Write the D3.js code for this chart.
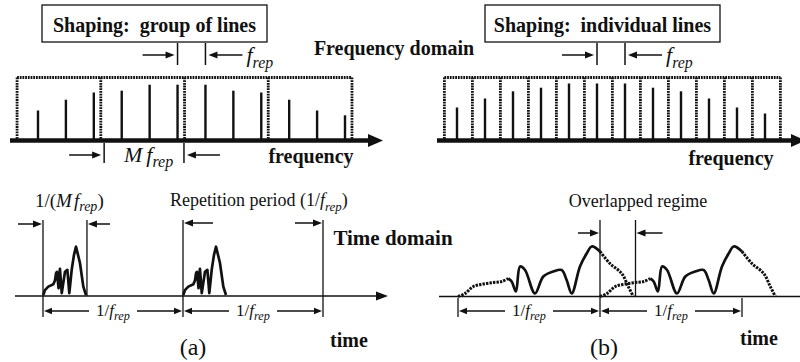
<!DOCTYPE html>
<html>
<head>
<meta charset="utf-8">
<script src="https://cdn.jsdelivr.net/npm/d3@7"></script>
<style>
  html, body { margin: 0; padding: 0; background: #fff; }
  svg { display: block; font-family: "Liberation Serif", "Times New Roman", serif; }
  text { white-space: pre; fill: #111; }
</style>
</head>
<body>
<svg id="fig" width="800" height="362"></svg>
<script>
// ---- Frequency domain: comb line amplitudes (relative) ----
const groupLineAmps = [0.50, 0.68, 0.80, 0.83, 0.93, 0.93, 0.93, 0.83, 0.80, 0.68, 0.50, 0.42];
const groupEdges    = [-0.75, 2.25, 5.25, 8.25, 11.25];          // shaping windows, in line index units
const groupMarks    = [2.37, 5.23];                               // Mf_rep span
const indivLineAmps = [0.55, 0.70, 0.82, 0.88, 0.95, 0.95, 0.95, 0.88, 0.82, 0.70, 0.55, 0.45];
const indivEdges    = [-0.45, 0.55, 1.55, 2.55, 3.55, 4.55, 5.55, 6.55, 7.55, 8.55, 9.55, 10.55, 11.55];
const frepMarks     = [5, 6];                                     // adjacent lines
const windowTop     = 1.05;

// ---- Time domain (a): short pulse inside each period (t in units of 1/f_rep) ----
const pulseA_t   = [0.002, 0.014, 0.038, 0.074, 0.086, 0.093, 0.100, 0.111, 0.121, 0.134,
                    0.157, 0.174, 0.188, 0.205, 0.221, 0.236, 0.264, 0.288, 0.307];
const pulseA_amp = [0.02, 0.12, 0.19, 0.24, 0.32, 0.46, 0.49, 0.16, 0.55, 0.06,
                    0.49, 0.53, 0.06, 0.53, 0.83, 1.00, 0.67, 0.19, 0.02];
const pulseAStarts = [0, 1];
const periodMarksA = [0, 1, 2];
const gateWidthA   = 0.314;

// ---- Time domain (b): long pulse overlapping the next period ----
const pulseB_t   = [0, 0.049, 0.108, 0.178, 0.249, 0.308, 0.354, 0.378, 0.408, 0.437, 0.472, 0.542,
                    0.601, 0.671, 0.730, 0.765, 0.801, 0.859, 0.906, 0.942, 1.000, 1.070, 1.153, 1.199, 1.235];
const pulseB_amp = [0, 0.06, 0.20, 0.25, 0.28, 0.30, 0.36, 0.30, 0.10, 0.60, 0.53, 0.06,
                    0.40, 0.50, 0.53, 0.33, 0.06, 0.60, 0.86, 1.00, 0.90, 0.66, 0.46, 0.20, 0.0];
const pulseBStarts = [0, 1];
const periodMarksB = [0, 1, 2];
const overlapB     = [1, 1.25];
const solidRangeB  = [0.354, 1.0];

const svg = d3.select("#fig");
svg.append("rect").attr("width", 800).attr("height", 362).attr("fill", "#fff");
const ink = "#111";
const dots = "1.8,0.9";

// line with a filled triangular head at (x2, y2)
function arrow(g, x1, y1, x2, y2, o = {}) {
  const len = o.len || 9, w = o.w || 3.6, sw = o.sw || 1.5;
  const a = Math.atan2(y2 - y1, x2 - x1), c = Math.cos(a), s = Math.sin(a);
  const bx = x2 - len * c, by = y2 - len * s;
  g.append("line").attr("x1", x1).attr("y1", y1).attr("x2", bx + 1 * c).attr("y2", by + 1 * s)
    .attr("stroke", ink).attr("stroke-width", sw);
  g.append("path")
    .attr("d", `M${x2},${y2}L${bx - w * s},${by + w * c}L${bx + w * s},${by - w * c}Z`)
    .attr("fill", ink);
}
function vline(g, x, y1, y2, sw = 1.3) {
  g.append("line").attr("x1", x).attr("x2", x).attr("y1", y1).attr("y2", y2)
    .attr("stroke", ink).attr("stroke-width", sw);
}
// f with italic "rep" subscript, optionally prefixed
function frepText(g, x, y, size, anchor = "start", prefix = null, suffix = null) {
  const t = g.append("text").attr("x", x).attr("y", y).attr("font-size", size).attr("text-anchor", anchor);
  if (prefix) prefix.forEach(p => t.append("tspan").attr("font-style", p.i ? "italic" : "normal").text(p.s));
  t.append("tspan").attr("font-style", "italic").text("f");
  t.append("tspan").attr("font-style", "italic").attr("font-size", size * 0.72).attr("dy", size * 0.25).text("rep");
  if (suffix) t.append("tspan").attr("dy", -size * 0.25).text(suffix);
  return t;
}

// ================= Frequency domain =================
const yF = d3.scaleLinear().domain([0, 1]).range([140.5, 80.5]);
const xG = d3.scaleLinear().domain([0, 11]).range([38, 345]);
const xI = d3.scaleLinear().domain([0, 11]).range([457, 765]);

function spectrum(x, amps, edges, axisX0, axisTip) {
  const g = svg.append("g");
  // dotted shaping windows
  g.append("line").attr("x1", x(edges[0])).attr("x2", x(edges[edges.length - 1]))
    .attr("y1", yF(windowTop)).attr("y2", yF(windowTop))
    .attr("stroke", ink).attr("stroke-width", 2.8).attr("stroke-dasharray", dots);
  g.selectAll(null).data(edges).join("line")
    .attr("x1", d => x(d)).attr("x2", d => x(d))
    .attr("y1", yF(windowTop)).attr("y2", yF(0))
    .attr("stroke", ink).attr("stroke-width", 2.8).attr("stroke-dasharray", dots);
  // spectral lines
  g.selectAll(null).data(amps).join("line")
    .attr("x1", (d, i) => x(i)).attr("x2", (d, i) => x(i))
    .attr("y1", d => yF(d)).attr("y2", yF(0))
    .attr("stroke", ink).attr("stroke-width", 2.4);
  // frequency axis
  g.append("line").attr("x1", axisX0).attr("x2", axisTip - 12).attr("y1", yF(0)).attr("y2", yF(0))
    .attr("stroke", ink).attr("stroke-width", 4.5);
  g.append("path").attr("d", `M${axisTip},${yF(0)}L${axisTip - 15},${yF(0) - 6.5}L${axisTip - 15},${yF(0) + 6.5}Z`)
    .attr("fill", ink);
  return g;
}
const gL = spectrum(xG, groupLineAmps, groupEdges, 10, 383);
const gR = spectrum(xI, indivLineAmps, indivEdges, 437, 806);

// f_rep markers
[[gL, xG], [gR, xI]].forEach(([g, x]) => {
  const a = x(frepMarks[0]), b = x(frepMarks[1]);
  vline(g, a, 43, 65, 1.5); vline(g, b, 43, 65, 1.5);
  arrow(g, a - 35, 55, a - 3, 55);
  arrow(g, b + 37, 55, b + 3, 55);
  frepText(g, b + 41, 62, 22);
});

// Mf_rep span
{
  const a = xG(groupMarks[0]), b = xG(groupMarks[1]);
  vline(gL, a, 143, 163, 1.5); vline(gL, b, 143, 163, 1.5);
  arrow(gL, a - 35, 155, a - 3, 155);
  arrow(gL, b + 36, 155, b + 3, 155);
  const t = gL.append("text").attr("x", 124).attr("y", 162).attr("font-size", 22);
  t.append("tspan").attr("font-style", "italic").text("M");
  t.append("tspan").attr("font-style", "italic").attr("dx", 4).text("f");
  t.append("tspan").attr("font-style", "italic").attr("font-size", 16).attr("dy", 5).text("rep");
}

// boxed titles and labels
function boxTitle(x, w, label) {
  svg.append("rect").attr("x", x).attr("y", 5).attr("width", w).attr("height", 37)
    .attr("fill", "#fff").attr("stroke", ink).attr("stroke-width", 1.3);
  svg.append("text").attr("x", x + w / 2).attr("y", 31.5).attr("text-anchor", "middle")
    .attr("font-size", 20).attr("font-weight", "bold").text(label);
}
boxTitle(42, 225, "Shaping:  group of lines");
boxTitle(485, 235, "Shaping:  individual lines");

svg.append("text").attr("x", 394).attr("y", 55).attr("text-anchor", "middle")
  .attr("font-size", 20).attr("font-weight", "bold").text("Frequency domain");
svg.append("text").attr("x", 311).attr("y", 163).attr("text-anchor", "middle")
  .attr("font-size", 20).attr("font-weight", "bold").text("frequency");
svg.append("text").attr("x", 731).attr("y", 165).attr("text-anchor", "middle")
  .attr("font-size", 20).attr("font-weight", "bold").text("frequency");

// ================= Time domain =================
svg.append("text").attr("x", 393).attr("y", 245).attr("text-anchor", "middle")
  .attr("font-size", 21).attr("font-weight", "bold").text("Time domain");

function dimension(g, x1, x2, y, labelSize) {
  const cx = (x1 + x2) / 2, gap = 24;
  arrow(g, cx - gap, y, x1 + 1, y, { len: 8, w: 3.3, sw: 1.4 });
  arrow(g, cx + gap, y, x2 - 1, y, { len: 8, w: 3.3, sw: 1.4 });
  frepText(g, cx, y + 5, labelSize, "middle", [{ s: "1/" }]);
}

// ---- (a) ----
const xA = d3.scaleLinear().domain([0, 1]).range([43, 183]);
const yA = d3.scaleLinear().domain([0, 1]).range([296, 246.7]);
const gA = svg.append("g");
gA.append("line").attr("x1", xA(-0.2)).attr("x2", 378).attr("y1", yA(0)).attr("y2", yA(0))
  .attr("stroke", ink).attr("stroke-width", 1.4);
gA.append("path").attr("d", `M388,${yA(0)}L376,${yA(0) - 4.5}L376,${yA(0) + 4.5}Z`).attr("fill", ink);

periodMarksA.forEach(t => vline(gA, xA(t), 220, 317));
vline(gA, xA(gateWidthA), 220, 296);

const lineA = d3.line().x(d => xA(d[0])).y(d => yA(d[1]));
pulseAStarts.forEach(s => {
  gA.append("path").datum(pulseA_t.map((t, i) => [t + s, pulseA_amp[i]]))
    .attr("d", lineA).attr("fill", "none").attr("stroke", ink)
    .attr("stroke-width", 2.7).attr("stroke-linejoin", "round");
});

arrow(gA, xA(0) - 25, 224, xA(0) - 1, 224);
arrow(gA, xA(gateWidthA) + 23, 224, xA(gateWidthA) + 1, 224);
arrow(gA, xA(1) + 30, 223, xA(1) + 1, 223);
arrow(gA, xA(2) - 28, 223, xA(2) - 1, 223);

periodMarksA.slice(1).forEach((t, i) => dimension(gA, xA(periodMarksA[i]), xA(t), 311, 17));

{
  const t = gA.append("text").attr("x", 35).attr("y", 207).attr("font-size", 19);
  t.append("tspan").text("1/(");
  t.append("tspan").attr("font-style", "italic").text("M");
  t.append("tspan").attr("font-style", "italic").attr("dx", 2).text("f");
  t.append("tspan").attr("font-style", "italic").attr("font-size", 14).attr("dy", 4).text("rep");
  t.append("tspan").attr("dy", -4).text(")");
}
frepText(gA, 170, 206, 18, "start", [{ s: "Repetition period (1/" }], ")");
gA.append("text").attr("x", 349).attr("y", 347).attr("text-anchor", "middle")
  .attr("font-size", 20).attr("font-weight", "bold").text("time");
gA.append("text").attr("x", 193).attr("y", 355).attr("text-anchor", "middle")
  .attr("font-size", 24).text("(a)");

// ---- (b) ----
const xB = d3.scaleLinear().domain([0, 1]).range([458, 600]);
const yB = d3.scaleLinear().domain([0, 1]).range([296.5, 246.5]);
const gB = svg.append("g");
gB.append("line").attr("x1", 439).attr("x2", 800).attr("y1", yB(0)).attr("y2", yB(0))
  .attr("stroke", ink).attr("stroke-width", 1.5);

vline(gB, xB(overlapB[0]), 220, 317);
vline(gB, xB(overlapB[1]), 220, yB(0));
[periodMarksB[0], periodMarksB[2]].forEach(t => vline(gB, xB(t), 298, 317));

const lineB = d3.line().x(d => xB(d[0])).y(d => yB(d[1])).curve(d3.curveCatmullRom.alpha(0.5));
pulseBStarts.forEach(s => {
  const pts = pulseB_t.map((t, i) => [t, pulseB_amp[i]]);
  const lead = pts.filter(p => p[0] <= solidRangeB[0]);
  const mid = pts.filter(p => p[0] >= solidRangeB[0] && p[0] <= solidRangeB[1]);
  const trail = pts.filter(p => p[0] >= solidRangeB[1]);
  const shift = arr => arr.map(p => [p[0] + s, p[1]]);
  [[lead, true], [mid, false], [trail, true]].forEach(([seg, dotted]) => {
    gB.append("path").datum(shift(seg)).attr("d", lineB)
      .attr("fill", "none").attr("stroke", ink).attr("stroke-width", dotted ? 3 : 2.7)
      .attr("stroke-linejoin", "round")
      .attr("stroke-dasharray", dotted ? "2.4,1.1" : null);
  });
});

arrow(gB, xB(overlapB[0]) - 22, 233, xB(overlapB[0]) - 1, 233);
arrow(gB, xB(overlapB[1]) + 27, 233, xB(overlapB[1]) + 1, 233);

periodMarksB.slice(1).forEach((t, i) => dimension(gB, xB(periodMarksB[i]), xB(t), 311, 17));

gB.append("text").attr("x", 638).attr("y", 207).attr("text-anchor", "middle")
  .attr("font-size", 18).text("Overlapped regime");
gB.append("text").attr("x", 759).attr("y", 345).attr("text-anchor", "middle")
  .attr("font-size", 20).attr("font-weight", "bold").text("time");
gB.append("text").attr("x", 604).attr("y", 355).attr("text-anchor", "middle")
  .attr("font-size", 24).text("(b)");
</script>
</body>
</html>
